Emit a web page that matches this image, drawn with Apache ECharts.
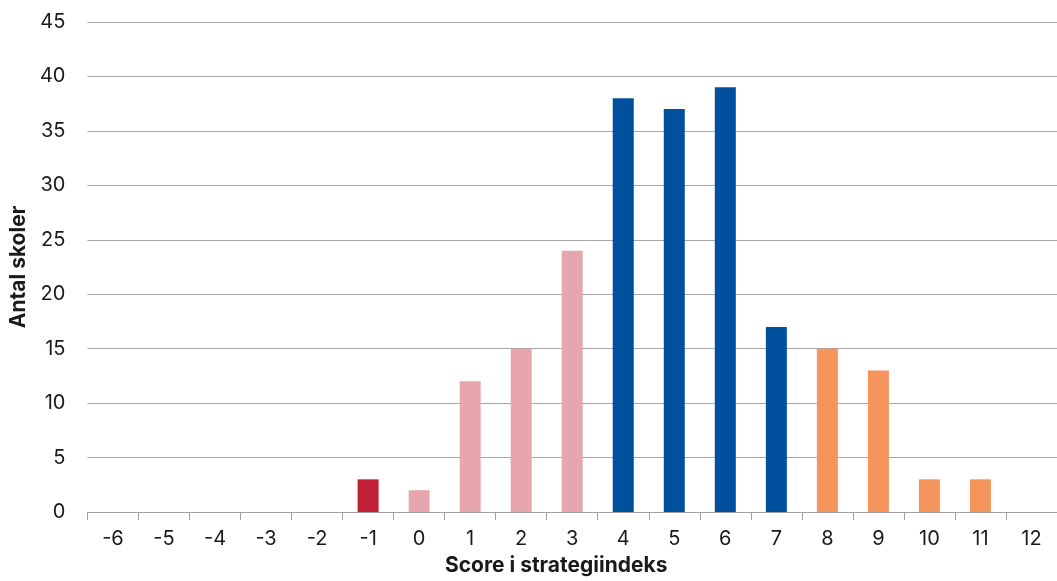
<!DOCTYPE html>
<html><head><meta charset="utf-8">
<script src="https://cdn.jsdelivr.net/npm/echarts@6/dist/echarts.min.js"></script>
<style>html,body{margin:0;padding:0;background:#fff;overflow:hidden}#c{width:1057px;height:581px}</style>
</head><body><div id="c"></div>
<script>
const categories = ['-6','-5','-4','-3','-2','-1','0','1','2','3','4','5','6','7','8','9','10','11','12'];
const values = [0,0,0,0,0,3,2,12,15,24,38,37,39,17,15,13,3,3,0];
const yTicks = [0,5,10,15,20,25,30,35,40,45];

function colorFor(cat){
  const v = Number(cat);
  if (v < 0) return '#C01F35';
  if (v <= 3) return '#E7A6AD';
  if (v <= 7) return '#00509D';
  return '#F5945C';
}

const chart = echarts.init(document.getElementById('c'), null, {renderer:'canvas', width:1057, height:581});
chart.setOption({
  animation:false,
  textStyle:{fontFamily:'Inter'},
  grid:{left:86, top:22, width:980, height:496},
  xAxis:{
    type:'category', data:categories,
    axisLine:{lineStyle:{color:'#A0A0A0', width:1}},
    axisTick:{show:true, length:8, lineStyle:{color:'#A0A0A0'}},
    axisLabel:{color:'#1a1a1a', fontSize:20, margin:17, fontFamily:'Inter'},
    name:'Score i strategiindeks', nameLocation:'middle', nameGap:43,
    nameTextStyle:{fontWeight:'bold', fontSize:21, color:'#1a1a1a', fontFamily:'Inter', padding:[0,32,0,0]}
  },
  yAxis:{
    type:'value', min:yTicks[0], max:yTicks[yTicks.length-1], interval:5,
    axisLine:{show:false}, axisTick:{show:false},
    splitLine:{lineStyle:{color:'#A6A6A6', width:1}},
    axisLabel:{color:'#1a1a1a', fontSize:20, margin:22, fontFamily:'Inter'},
    name:'Antal skoler', nameLocation:'middle', nameGap:55, nameRotate:90,
    nameTextStyle:{fontWeight:'bold', fontSize:21, color:'#1a1a1a', fontFamily:'Inter'}
  },
  series:[{
    type:'bar', data:values.map((v,i)=>({value:v, itemStyle:{color:colorFor(categories[i])}})),
    barWidth:21
  }]
});
</script></body></html>
